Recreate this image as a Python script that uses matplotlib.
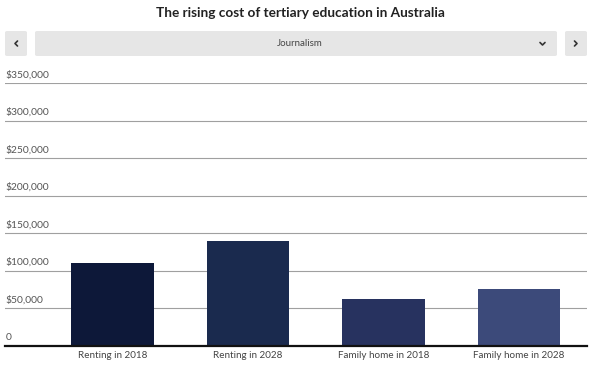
import matplotlib.pyplot as plt
from matplotlib.patches import FancyBboxPatch
from matplotlib.lines import Line2D

plt.rcParams['font.family'] = ['Lato', 'DejaVu Sans']

categories = ['Renting in 2018', 'Renting in 2028', 'Family home in 2018', 'Family home in 2028']
costs = [110000, 140000, 61500, 75500]
bar_colors = ['#0d1839', '#1a2a4e', '#27325f', '#3c4a7a']
yticks = [0, 50000, 100000, 150000, 200000, 250000, 300000, 350000]
ytick_labels = ['0'] + ['${:,}'.format(v) for v in yticks[1:]]
selected = 'Journalism'

W, H = 600, 366
fig = plt.figure(figsize=(W / 100, H / 100), dpi=100)

# plot area: x 5..587 px, baseline at 345px, 350k at 83px
ax = fig.add_axes([5 / W, 1 - 345.5 / H, 582 / W, (345.5 - 83) / H])
x = list(range(len(categories)))
ax.bar(x, costs, width=0.61, color=bar_colors, zorder=3)
ax.set_xlim(-0.793, 3.502)
ax.set_ylim(0, 350000)

for v, lab in zip(yticks, ytick_labels):
    if v > 0:
        ax.axhline(v, color='#a0a0a0', lw=0.8, zorder=1)
    ax.text(-0.79, v + 4500, lab, ha='left', va='bottom', fontsize=7.4,
            color='#555555', zorder=4)
ax.axhline(0, color='#111111', lw=1.6, zorder=4, clip_on=False)

ax.set_xticks(x)
ax.set_xticklabels(categories, fontsize=7.1, color='#444444')
ax.tick_params(axis='x', length=0, pad=4)
ax.set_yticks([])
for s in ax.spines.values():
    s.set_visible(False)

fig.text(0.5, 1 - 13 / H, 'The rising cost of tertiary education in Australia',
         ha='center', va='center', fontsize=9.8, fontweight='bold', color='#222222')

# navigation controls
def box(x0, x1, y0, y1):
    p = FancyBboxPatch((x0 / W, 1 - y1 / H), (x1 - x0) / W, (y1 - y0) / H,
                       boxstyle='round,pad=0,rounding_size=0.004',
                       transform=fig.transFigure, facecolor='#e6e6e6',
                       edgecolor='none')
    fig.patches.append(p)

box(5, 27, 31, 56)
box(35, 557, 31, 56)
box(565, 587, 31, 56)

def chevron(pts):
    xs = [p[0] / W for p in pts]
    ys = [1 - p[1] / H for p in pts]
    fig.add_artist(Line2D(xs, ys, transform=fig.transFigure, color='#333333',
                          lw=1.2, solid_capstyle='round', solid_joinstyle='round'))

chevron([(17.5, 41), (15, 43.5), (17.5, 46)])
chevron([(574.5, 41), (577, 43.5), (574.5, 46)])
chevron([(540, 42.5), (542.5, 45), (545, 42.5)])

fig.text(0.5, 1 - 44 / H, selected, ha='center', va='center', fontsize=7,
         color='#444444')

fig.savefig('out.png', dpi=100, facecolor='white')
